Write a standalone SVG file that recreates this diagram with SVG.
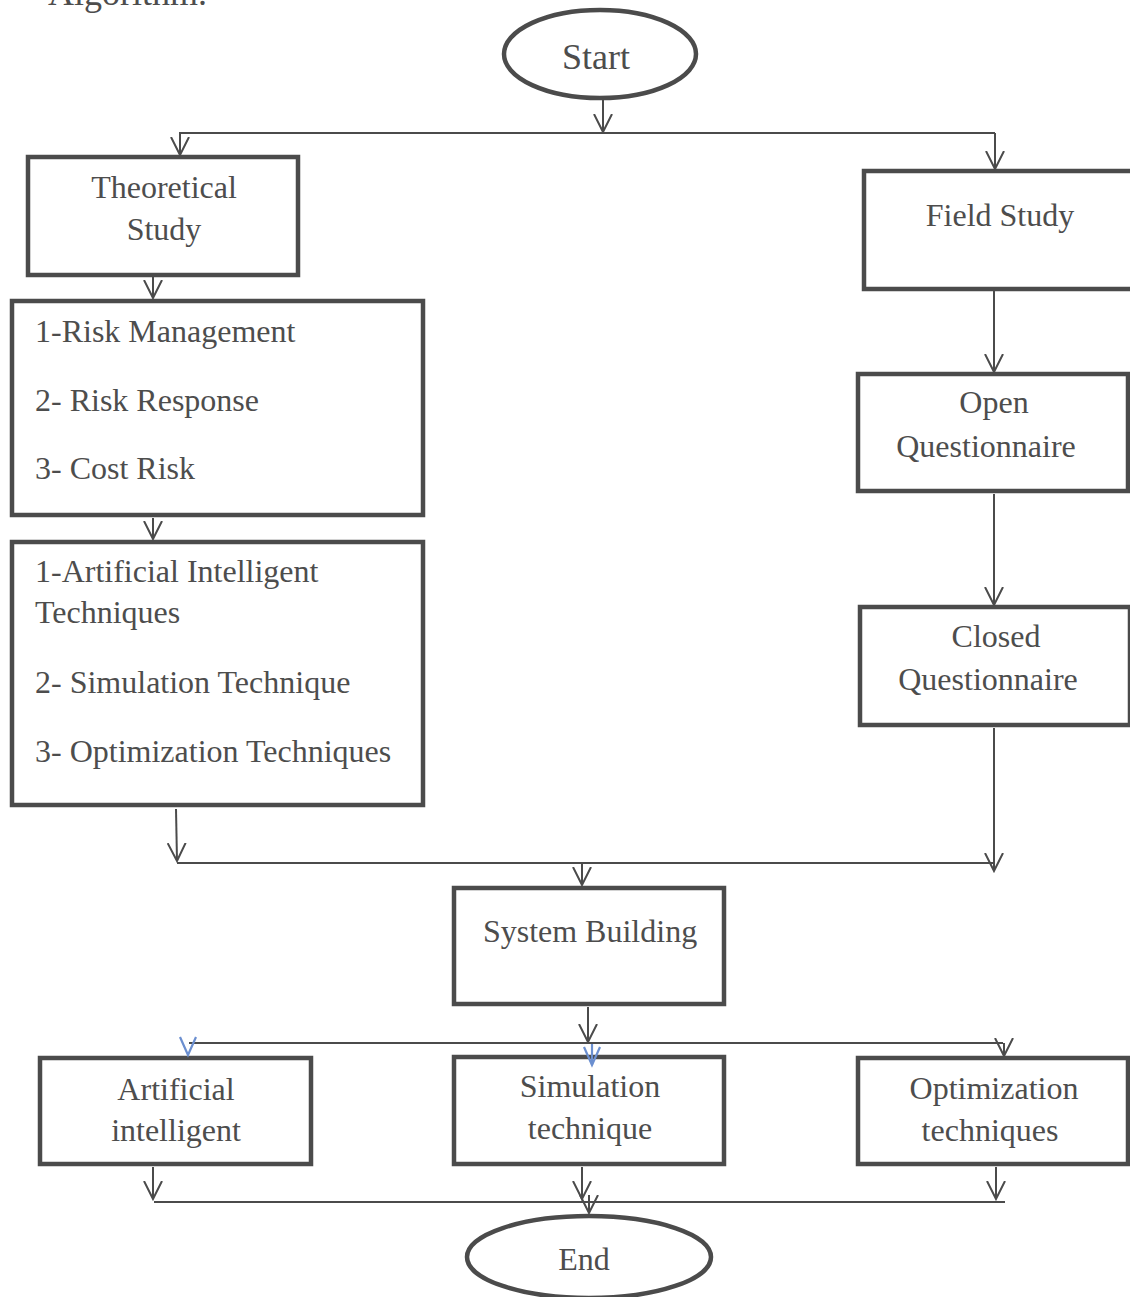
<svg xmlns="http://www.w3.org/2000/svg" width="1130" height="1297" viewBox="0 0 1130 1297">
<defs>
<style>
.box{fill:#fff;stroke:#4b4b4b;stroke-width:4.5}
.ell{fill:#fff;stroke:#4b4b4b;stroke-width:4.5}
.ln{fill:none;stroke:#4b4b4b;stroke-width:2}
.bl{fill:none;stroke:#6b8fd0;stroke-width:2.2}
text{font-family:"Liberation Serif","Times New Roman",serif;font-size:32px;fill:#4d4d4d}
.c{text-anchor:middle}
.big{font-size:36px}
</style>
<marker id="ah" markerUnits="userSpaceOnUse" viewBox="0 0 20 20" markerWidth="20" markerHeight="20" refX="18" refY="10" orient="auto">
<path d="M0,1 L18,10 L0,19" fill="none" stroke="#4b4b4b" stroke-width="2"/>
</marker>
</defs>
<rect width="1130" height="1297" fill="#fff"/>
<text class="big" x="48" y="5">Algorithm.</text>

<g id="start">
<ellipse class="ell" cx="600" cy="54" rx="96" ry="44"/>
<text class="c big" x="596" y="69">Start</text>
</g>

<g id="theoretical">
<rect class="box" x="28" y="157" width="270" height="118"/>
<text class="c" x="164" y="198">Theoretical</text>
<text class="c" x="164" y="240">Study</text>
</g>

<g id="risk">
<rect class="box" x="12" y="301" width="411" height="214"/>
<text x="35" y="342">1-Risk Management</text>
<text x="35" y="411">2- Risk Response</text>
<text x="35" y="479">3- Cost Risk</text>
</g>

<g id="techniques">
<rect class="box" x="12" y="542" width="411" height="263"/>
<text x="35" y="582">1-Artificial Intelligent</text>
<text x="35" y="623">Techniques</text>
<text x="35" y="693">2- Simulation Technique</text>
<text x="35" y="762">3- Optimization Techniques</text>
</g>

<g id="field">
<rect class="box" x="864" y="171" width="280" height="118"/>
<text class="c" x="1000" y="226">Field Study</text>
</g>

<g id="open">
<rect class="box" x="858" y="374" width="270" height="117"/>
<text class="c" x="994" y="413">Open</text>
<text class="c" x="986" y="457">Questionnaire</text>
</g>

<g id="closed">
<rect class="box" x="860" y="607" width="270" height="118"/>
<text class="c" x="996" y="647">Closed</text>
<text class="c" x="988" y="690">Questionnaire</text>
</g>

<g id="system">
<rect class="box" x="454" y="888" width="270" height="116"/>
<text class="c" x="590" y="942">System Building</text>
</g>

<g id="ai">
<rect class="box" x="40" y="1058" width="271" height="106"/>
<text class="c" x="176" y="1100">Artificial</text>
<text class="c" x="176" y="1141">intelligent</text>
</g>

<g id="sim">
<rect class="box" x="454" y="1057" width="270" height="107"/>
<text class="c" x="590" y="1097">Simulation</text>
<text class="c" x="590" y="1139">technique</text>
</g>

<g id="opt">
<rect class="box" x="858" y="1058" width="270" height="106"/>
<text class="c" x="994" y="1099">Optimization</text>
<text class="c" x="990" y="1141">techniques</text>
</g>

<g id="end">
<ellipse class="ell" cx="589" cy="1257" rx="122" ry="41"/>
<text class="c" x="584" y="1270">End</text>
</g>

<g id="connectors">
<line class="ln" x1="603" y1="99" x2="603" y2="132" marker-end="url(#ah)"/>
<line class="ln" x1="179" y1="133" x2="995" y2="133"/>
<line class="ln" x1="180" y1="133" x2="180" y2="155" marker-end="url(#ah)"/>
<line class="ln" x1="995" y1="133" x2="995" y2="169" marker-end="url(#ah)"/>
<line class="ln" x1="153" y1="277" x2="153" y2="298" marker-end="url(#ah)"/>
<line class="ln" x1="153" y1="518" x2="153" y2="539" marker-end="url(#ah)"/>
<line class="ln" x1="994" y1="291" x2="994" y2="372" marker-end="url(#ah)"/>
<line class="ln" x1="994" y1="494" x2="994" y2="605" marker-end="url(#ah)"/>
<line class="ln" x1="176" y1="809" x2="177" y2="861" marker-end="url(#ah)"/>
<line class="ln" x1="994" y1="728" x2="994" y2="871" marker-end="url(#ah)"/>
<line class="ln" x1="177" y1="863" x2="995" y2="863"/>
<line class="ln" x1="582" y1="863" x2="582" y2="885" marker-end="url(#ah)"/>
<line class="ln" x1="588" y1="1007" x2="588" y2="1042" marker-end="url(#ah)"/>
<line class="ln" x1="189" y1="1043" x2="1003" y2="1043"/>
<path class="bl" d="M180,1037 L188,1055 L196,1037"/>
<line class="bl" x1="592" y1="1044" x2="592" y2="1065"/>
<path class="bl" d="M584,1047 L592,1065 L600,1047"/>
<line class="ln" x1="1004" y1="1043" x2="1004" y2="1056" marker-end="url(#ah)"/>
<line class="ln" x1="153" y1="1167" x2="153" y2="1199" marker-end="url(#ah)"/>
<line class="ln" x1="582" y1="1167" x2="582" y2="1199" marker-end="url(#ah)"/>
<line class="ln" x1="996" y1="1167" x2="996" y2="1199" marker-end="url(#ah)"/>
<line class="ln" x1="154" y1="1202" x2="1005" y2="1202"/>
<line class="ln" x1="589" y1="1195" x2="589" y2="1213" marker-end="url(#ah)"/>
</g>
</svg>
